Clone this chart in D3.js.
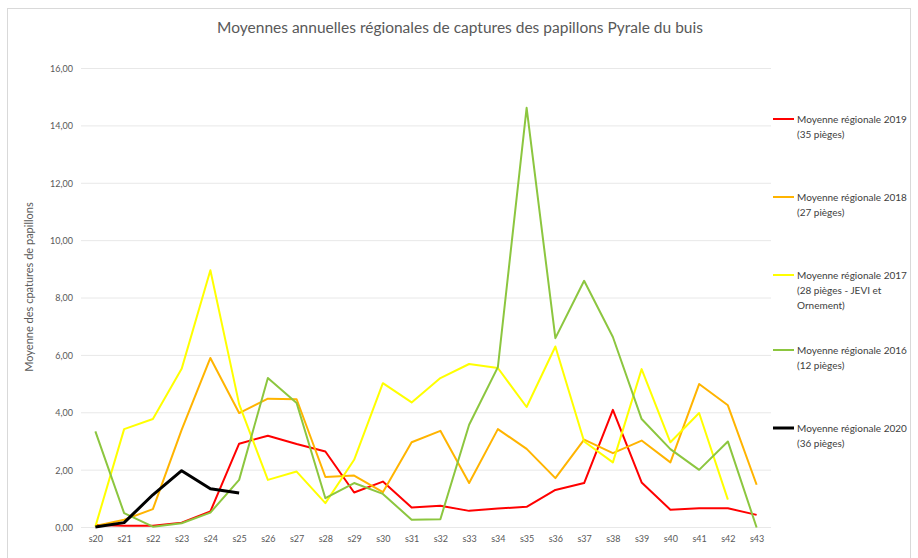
<!DOCTYPE html>
<html>
<head>
<meta charset="utf-8">
<script src="https://cdn.jsdelivr.net/npm/d3@7"></script>
<style>
  body { margin: 0; background: #fff; }
  svg { font-family: Lato, "Open Sans", sans-serif; }
</style>
</head>
<body>
<svg id="chart" width="918" height="558"></svg>
<script>
let weeks = ["s20","s21","s22","s23","s24","s25","s26","s27","s28","s29","s30","s31",
    "s32","s33","s34","s35","s36","s37","s38","s39","s40","s41","s42","s43"]

let yTicks = [0, 2, 4, 6, 8, 10, 12, 14, 16]

let values2019 = [0.09, 0.06, 0.06, 0.17, 0.56, 2.92, 3.2, 2.91, 2.65, 1.22, 1.6, 0.7,
    0.76, 0.58, 0.66, 0.72, 1.31, 1.55, 4.1, 1.57, 0.62, 0.67, 0.67, 0.44]
let values2018 = [0.05, 0.27, 0.64, 3.4, 5.91, 3.99, 4.49, 4.47, 1.76, 1.81, 1.23, 2.97,
    3.37, 1.55, 3.43, 2.74, 1.72, 3.06, 2.59, 3.03, 2.27, 5.0, 4.26, 1.49]
let values2017 = [0.03, 3.43, 3.78, 5.53, 8.97, 4.3, 1.66, 1.95, 0.85, 2.36, 5.03, 4.36,
    5.21, 5.7, 5.56, 4.2, 6.31, 3.0, 2.27, 5.52, 2.97, 3.99, 0.97, null]
let values2016 = [3.35, 0.5, 0.03, 0.15, 0.52, 1.66, 5.21, 4.34, 1.02, 1.55, 1.17, 0.27,
    0.29, 3.58, 5.59, 14.63, 6.6, 8.6, 6.64, 3.78, 2.73, 2.01, 3.0, 0]
let values2020 = [0.02, 0.17, 1.14, 1.98, 1.35, 1.2]

let series = [
    { label: ["Moyenne régionale 2019", "(35 pièges)"], color: "#ff0000", width: 2, values: values2019, ly: 119 },
    { label: ["Moyenne régionale 2018", "(27 pièges)"], color: "#ffb400", width: 2, values: values2018, ly: 197 },
    { label: ["Moyenne régionale 2017", "(28 pièges - JEVI et", "Ornement)"], color: "#ffff00", width: 2, values: values2017, ly: 275 },
    { label: ["Moyenne régionale 2016", "(12 pièges)"], color: "#8cc63f", width: 2, values: values2016, ly: 350 },
    { label: ["Moyenne régionale 2020", "(36 pièges)"], color: "#000000", width: 3, values: values2020, ly: 428 }
]

let svg = d3.select("#chart")
let plotLeft = 81, plotRight = 771, plotTop = 68.5, plotBottom = 527.5

// chart border
svg.append("rect")
    .attr("x", 7.5).attr("y", 8.5)
    .attr("width", 903).attr("height", 560)
    .attr("fill", "none")
    .attr("stroke", "#d9d9d9")

svg.append("text")
    .attr("x", 460).attr("y", 33)
    .attr("text-anchor", "middle")
    .attr("font-size", 15.5)
    .attr("fill", "#595959")
    .text("Moyennes annuelles régionales de captures des papillons Pyrale du buis")

let x = d3.scalePoint()
    .domain(weeks)
    .range([plotLeft, plotRight])
    .padding(0.5)

let y = d3.scaleLinear()
    .domain([0, 16])
    .range([plotBottom, plotTop])

// gridlines
svg.append("g")
    .selectAll("line")
    .data(yTicks)
    .enter()
    .append("line")
    .attr("x1", plotLeft).attr("x2", plotRight)
    .attr("y1", d => y(d)).attr("y2", d => y(d))
    .attr("stroke", "#e8e8e8")
    .attr("stroke-width", 1)

let yAxis = svg.append("g")
    .attr("transform", "translate(" + plotLeft + ",0)")
    .call(d3.axisLeft(y).tickValues(yTicks).tickSize(0).tickPadding(8)
        .tickFormat(d => d3.format(".2f")(d).replace(".", ",")))
yAxis.select(".domain").remove()
yAxis.selectAll("text").attr("fill", "#595959").attr("font-size", 9).attr("font-family", "Lato, sans-serif")

let xAxis = svg.append("g")
    .attr("transform", "translate(0," + plotBottom + ")")
    .call(d3.axisBottom(x).tickSize(0).tickPadding(8))
xAxis.select(".domain").remove()
xAxis.selectAll("text").attr("fill", "#595959").attr("font-size", 9).attr("font-family", "Lato, sans-serif")

svg.append("text")
    .attr("transform", "translate(33,287) rotate(-90)")
    .attr("text-anchor", "middle")
    .attr("font-size", 11)
    .attr("fill", "#595959")
    .text("Moyenne des cpatures de papillons")

let line = d3.line()
    .defined(d => d != null)
    .x((d, i) => x(weeks[i]))
    .y(d => y(d))

svg.append("g")
    .selectAll("path")
    .data(series)
    .enter()
    .append("path")
    .attr("d", d => line(d.values))
    .attr("fill", "none")
    .attr("stroke", d => d.color)
    .attr("stroke-width", d => d.width)
    .attr("stroke-linejoin", "round")

// legend
let legend = svg.append("g")
    .selectAll("g")
    .data(series)
    .enter()
    .append("g")
    .attr("transform", d => "translate(773," + d.ly + ")")

legend.append("line")
    .attr("x1", 0).attr("x2", 21)
    .attr("stroke", d => d.color)
    .attr("stroke-width", d => d.width)

legend.append("text")
    .attr("x", 24)
    .attr("y", 3.5)
    .attr("font-size", 10)
    .attr("fill", "#404040")
    .selectAll("tspan")
    .data(d => d.label)
    .enter()
    .append("tspan")
    .attr("x", 24)
    .attr("dy", (d, i) => i == 0 ? 0 : 15)
    .text(d => d)
</script>
</body>
</html>
